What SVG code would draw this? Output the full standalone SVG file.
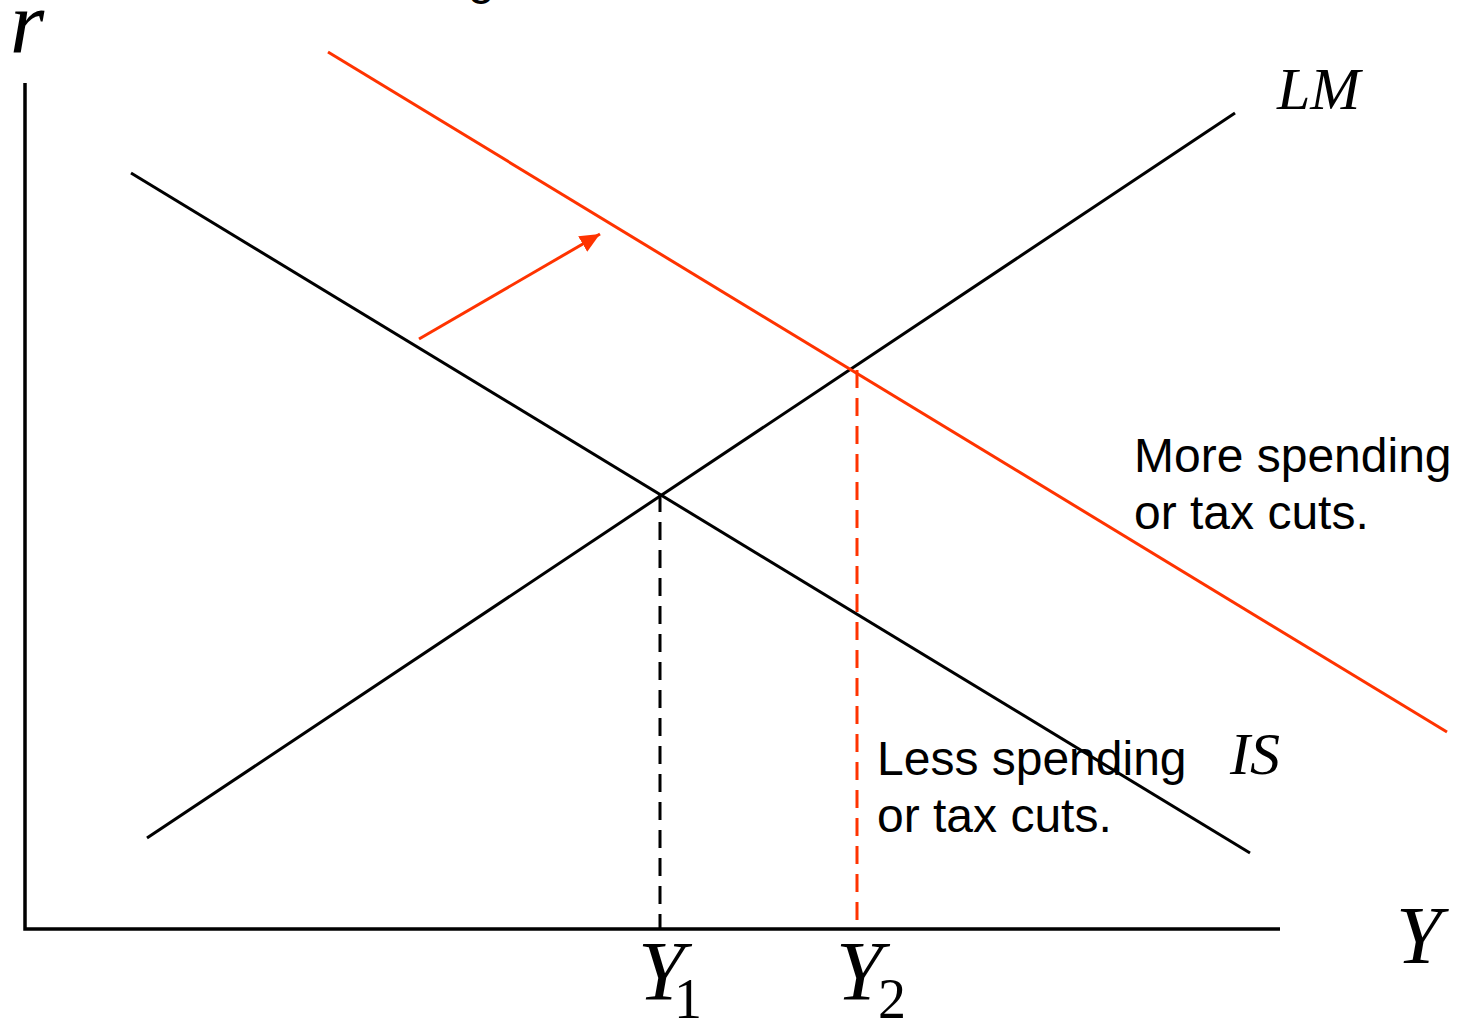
<svg xmlns="http://www.w3.org/2000/svg" width="1457" height="1022" viewBox="0 0 1457 1022">
<defs>
<style>
.ax{stroke:#000;stroke-width:3.5;fill:none}
.blk{stroke:#000;stroke-width:3;fill:none}
.red{stroke:#ff3300;stroke-width:3;fill:none}
.dash{stroke-dasharray:18 10}
.lab{font-family:"Liberation Serif","Times New Roman",serif;font-style:italic;fill:#000}
.sub{font-family:"Liberation Serif","Times New Roman",serif;fill:#000}
.txt{font-family:"Liberation Sans",Arial,sans-serif;font-size:48px;fill:#000}
</style>
<marker id="ah" markerUnits="userSpaceOnUse" markerWidth="22" markerHeight="18" refX="20" refY="9" orient="auto">
<path d="M0,0 L20,9 L0,18 Z" fill="#ff3300"/>
</marker>
</defs>
<rect width="1457" height="1022" fill="#fff"/>
<text class="txt" x="468" y="-6">g</text>
<g id="axes">
<path class="ax" d="M25,83 V929 H1280"/>
<text class="lab" x="10" y="52" font-size="88">r</text>
<text class="lab" x="1396" y="963" font-size="82">Y</text>
</g>
<g id="connectors">
<line id="IS" class="blk" x1="131" y1="173" x2="1250" y2="853"/>
<line id="LM" class="blk" x1="147" y1="838" x2="1235" y2="113"/>
<line id="IS2" class="red" x1="328" y1="52" x2="1447" y2="732"/>
<line id="shift" class="red" stroke-width="4" x1="419" y1="339" x2="600" y2="234" marker-end="url(#ah)"/>
<line class="blk dash" x1="660" y1="494" x2="660" y2="929"/>
<line class="red dash" x1="857" y1="370" x2="857" y2="929"/>
</g>
<g id="label-LM"><text class="lab" x="1277" y="109" font-size="60">LM</text></g>
<g id="label-IS"><text class="lab" x="1230" y="774" font-size="60">IS</text></g>
<g id="label-Y1"><text class="lab" x="638" y="1000" font-size="84">Y</text><text class="sub" x="674" y="1018" font-size="56">1</text></g>
<g id="label-Y2"><text class="lab" x="836" y="1000" font-size="84">Y</text><text class="sub" x="878" y="1018" font-size="56">2</text></g>
<g id="note-more"><text class="txt" x="1134" y="472">More spending</text><text class="txt" x="1134" y="529">or tax cuts.</text></g>
<g id="note-less"><text class="txt" x="877" y="775">Less spending</text><text class="txt" x="877" y="832">or tax cuts.</text></g>
</svg>
